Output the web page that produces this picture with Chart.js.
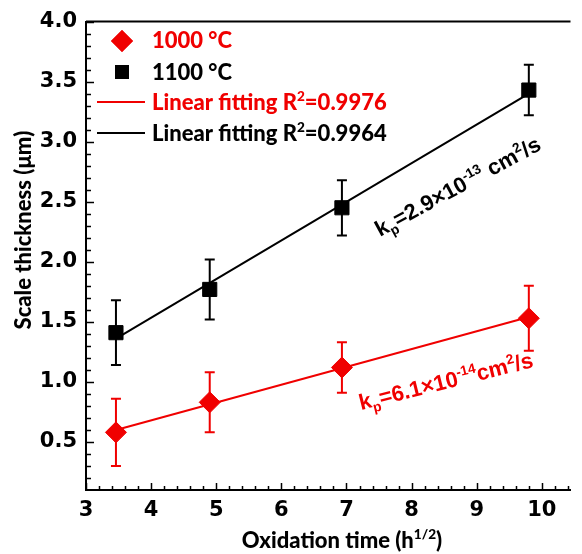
<!DOCTYPE html>
<html><head><meta charset="utf-8">
<script src="https://cdn.jsdelivr.net/npm/chart.js@4.4.1/dist/chart.umd.min.js"></script>
<style>html,body{margin:0;padding:0;background:#fff;}#wrap{width:582px;height:554px;}</style>
</head><body><div id="wrap"><canvas id="c" width="582" height="554"></canvas></div>
<script>
// ---- data ----
const xTime = [3.46, 4.90, 6.93, 9.80];          // oxidation time (h^1/2)
const thick1000 = [0.58, 0.83, 1.12, 1.53];      // 1000 °C scale thickness (µm)
const err1000 = [0.28, 0.25, 0.21, 0.27];
const thick1100 = [1.41, 1.77, 2.45, 3.43];      // 1100 °C
const err1100 = [0.27, 0.25, 0.23, 0.21];
const fitX = [3.46, 9.80];
const fit1000 = [0.60, 1.54];
const fit1100 = [1.36, 3.40];
const xTicks = [3, 4, 5, 6, 7, 8, 9, 10];
const yTicks = [0.5, 1.0, 1.5, 2.0, 2.5, 3.0, 3.5, 4.0];
const legendLabels = ['1000 °C', '1100 °C'];
const fitLabels = ['Linear fitting R', '=0.9976', '=0.9964'];

const RED = '#f00000', BLACK = '#000';
const GOTHIC = 'Lato';
const ARIAL = '"Liberation Sans", Arial';

function pts(xs, ys) { return xs.map((x, i) => ({x: x, y: ys[i]})); }

function drawRich(ctx, parts, x, y, size, family, dry, weight) {
  let cx = x;
  const wt = weight || 'bold';
  for (const p of parts) {
    let fs = size, dy = 0;
    if (p.sup) { fs = size * 0.62; dy = -size * 0.40; }
    if (p.sub) { fs = size * 0.62; dy = size * 0.24; }
    ctx.font = wt + ' ' + fs + 'px ' + family;
    if (!dry) ctx.fillText(p.t, cx, y + dy);
    cx += ctx.measureText(p.t).width;
  }
  return cx - x;
}

const decor = {
  id: 'decor',
  beforeDatasetsDraw(chart) {
    const ctx = chart.ctx, xs = chart.scales.x, ys = chart.scales.y;
    ctx.save();
    ctx.lineWidth = 2;
    const series = [[thick1000, err1000, RED], [thick1100, err1100, BLACK]];
    for (const [vals, errs, col] of series) {
      ctx.strokeStyle = col;
      vals.forEach((v, i) => {
        const px = xs.getPixelForValue(xTime[i]);
        const t = ys.getPixelForValue(v + errs[i]);
        const b = ys.getPixelForValue(v - errs[i]);
        ctx.beginPath();
        ctx.moveTo(px, t); ctx.lineTo(px, b);
        ctx.moveTo(px - 5, t); ctx.lineTo(px + 5, t);
        ctx.moveTo(px - 5, b); ctx.lineTo(px + 5, b);
        ctx.stroke();
      });
    }
    ctx.restore();
  },
  afterDraw(chart) {
    const ctx = chart.ctx, xs = chart.scales.x, ys = chart.scales.y, ca = chart.chartArea;
    ctx.save();
    // top frame line
    ctx.strokeStyle = BLACK; ctx.lineWidth = 2;
    ctx.beginPath(); ctx.moveTo(ca.left, ca.top); ctx.lineTo(ca.right, ca.top); ctx.stroke();
    // inward ticks
    ctx.lineWidth = 1.5;
    ctx.beginPath();
    for (let k = 0; k <= 37; k++) {
      const v = 3 + k * 0.2;
      if (v > xs.max + 1e-9) break;
      const major = Math.abs(v - Math.round(v)) < 1e-6;
      const px = Math.round(xs.getPixelForValue(v)) + 0.5;
      ctx.moveTo(px, ca.bottom); ctx.lineTo(px, ca.bottom - (major ? 7 : 4));
    }
    for (let k = 1; k <= 39; k++) {
      const v = 0.1 + k * 0.1;
      const major = Math.abs(v * 2 - Math.round(v * 2)) < 1e-6;
      const py = Math.round(ys.getPixelForValue(v)) + 0.5;
      ctx.moveTo(ca.left, py); ctx.lineTo(ca.left + (major ? 8 : 5), py);
    }
    ctx.stroke();

    // legend
    ctx.textBaseline = 'alphabetic'; ctx.textAlign = 'left';
    ctx.fillStyle = RED;
    Chart.helpers.drawPoint(ctx, {pointStyle: 'rectRot', radius: 11, borderWidth: 0, rotation: 0}, 122, 41);
    ctx.fill();
    drawRich(ctx, [{t: legendLabels[0]}], 152, 48, 22, GOTHIC, false, '900');
    ctx.fillStyle = BLACK;
    ctx.fillRect(115, 65, 14, 14);
    drawRich(ctx, [{t: legendLabels[1]}], 152, 80, 22, GOTHIC, false, '900');
    ctx.lineWidth = 2;
    ctx.strokeStyle = RED; ctx.beginPath(); ctx.moveTo(97, 102); ctx.lineTo(145, 102); ctx.stroke();
    ctx.fillStyle = RED;
    drawRich(ctx, [{t: fitLabels[0]}, {t: '2', sup: true}, {t: fitLabels[1]}], 152, 110, 22, GOTHIC, false, '900');
    ctx.strokeStyle = BLACK; ctx.beginPath(); ctx.moveTo(97, 133); ctx.lineTo(145, 133); ctx.stroke();
    ctx.fillStyle = BLACK;
    drawRich(ctx, [{t: fitLabels[0]}, {t: '2', sup: true}, {t: fitLabels[2]}], 152, 141, 22, GOTHIC, false, '900');

    // rate constant annotations
    ctx.save();
    ctx.fillStyle = BLACK;
    ctx.translate(380, 237); ctx.rotate(-28.5 * Math.PI / 180);
    drawRich(ctx, [{t: 'k'}, {t: 'p', sub: true}, {t: '=2.9×10'}, {t: '-13', sup: true}, {t: ' cm'}, {t: '2', sup: true}, {t: '/s'}], 0, 0, 22, ARIAL);
    ctx.restore();
    ctx.save();
    ctx.fillStyle = RED;
    ctx.translate(361, 410); ctx.rotate(-14 * Math.PI / 180);
    drawRich(ctx, [{t: 'k'}, {t: 'p', sub: true}, {t: '=6.1×10'}, {t: '-14', sup: true}, {t: 'cm'}, {t: '2', sup: true}, {t: '/s'}], 0, 0, 22, ARIAL);
    ctx.restore();

    // axis titles
    ctx.fillStyle = BLACK;
    const xt = [{t: 'Oxidation time (h'}, {t: '1/2', sup: true}, {t: ')'}];
    const w = drawRich(ctx, xt, 0, 0, 22, GOTHIC, true, '900');
    drawRich(ctx, xt, 342 - w / 2, 548, 22, GOTHIC, false, '900');
    ctx.save();
    ctx.translate(31, 230); ctx.rotate(-Math.PI / 2);
    const yt = [{t: 'Scale thickness (μm)'}];
    const wy = drawRich(ctx, yt, 0, 0, 22, GOTHIC, true, '900');
    drawRich(ctx, yt, -wy / 2, 0, 22, GOTHIC, false, '900');
    ctx.restore();
    ctx.restore();
  }
};

const tickFont = {family: '"DejaVu Sans"', size: 21, weight: 'bold'};

new Chart(document.getElementById('c'), {
  type: 'scatter',
  data: {
    datasets: [
      {label: legendLabels[0], data: pts(xTime, thick1000), pointStyle: 'rectRot', pointRadius: 10.5, pointHoverRadius: 10.5,
       backgroundColor: RED, borderColor: RED, borderWidth: 1, showLine: false, order: 1},
      {label: legendLabels[1], data: pts(xTime, thick1100), pointStyle: 'rect', pointRadius: 10, pointHoverRadius: 10,
       backgroundColor: BLACK, borderColor: BLACK, borderWidth: 1, showLine: false, order: 2},
      {label: 'fit 1000', data: pts(fitX, fit1000), showLine: true, pointRadius: 0, borderColor: RED, borderWidth: 2, order: 3},
      {label: 'fit 1100', data: pts(fitX, fit1100), showLine: true, pointRadius: 0, borderColor: BLACK, borderWidth: 2, order: 4}
    ]
  },
  options: {
    responsive: false, animation: false, devicePixelRatio: 1,
    layout: {padding: {top: 20, right: 0, left: 0, bottom: 0}},
    plugins: {legend: {display: false}, tooltip: {enabled: false}},
    scales: {
      x: {type: 'linear', min: 3, max: 10.44,
          afterBuildTicks: s => { s.ticks = xTicks.map(v => ({value: v})); },
          afterFit: s => { s.height = 64; },
          grid: {display: false, drawTicks: false},
          border: {display: true, color: BLACK, width: 2},
          ticks: {font: tickFont, color: BLACK, padding: 8, maxRotation: 0, callback: v => String(v)}},
      y: {type: 'linear', min: 0.1, max: 4.0,
          afterBuildTicks: s => { s.ticks = yTicks.map(v => ({value: v})); },
          afterFit: s => { s.width = 86; },
          grid: {display: false, drawTicks: false},
          border: {display: true, color: BLACK, width: 2},
          ticks: {font: tickFont, color: BLACK, padding: 9, callback: v => Number(v).toFixed(1)}}
    }
  },
  plugins: [decor]
});
</script></body></html>
